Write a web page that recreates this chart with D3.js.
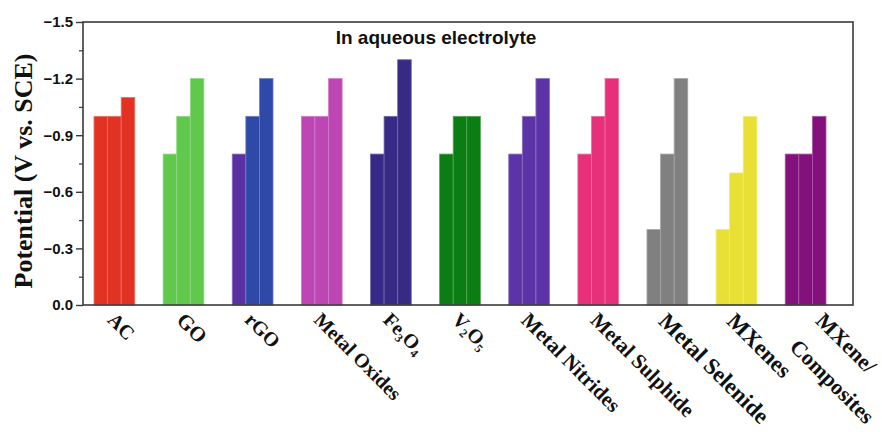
<!DOCTYPE html>
<html>
<head>
<meta charset="utf-8">
<script src="https://cdn.jsdelivr.net/npm/d3@7"></script>
<style>
  html, body { margin: 0; padding: 0; background: #fff; }
  svg { display: block; }
</style>
</head>
<body>
<svg id="chart" width="882" height="432"></svg>
<script>
// Electrode material classes along the x axis ("\n" breaks a label into two lines)
const categories = [
  "AC", "GO", "rGO", "Metal Oxides", "Fe3O4", "V2O5",
  "Metal Nitrides", "Metal Sulphide", "Metal Selenide", "MXenes", "MXene/\nComposites"
];

// Negative potential limits (V vs. SCE), three reported values per material
const firstLimit  = [-1.0, -0.8, -0.8, -1.0, -0.8, -0.8, -0.8, -0.8, -0.4, -0.4, -0.8];
const secondLimit = [-1.0, -1.0, -1.0, -1.0, -1.0, -1.0, -1.0, -1.0, -0.8, -0.7, -0.8];
const thirdLimit  = [-1.1, -1.2, -1.2, -1.2, -1.3, -1.0, -1.2, -1.2, -1.2, -1.0, -1.0];

// Y axis ticks
const tickValues = [0, -0.3, -0.6, -0.9, -1.2, -1.5];
const tickLabels = ["0.0", "\u22120.3", "\u22120.6", "\u22120.9", "\u22121.2", "\u22121.5"];
const minorTickValues = [-0.15, -0.45, -0.75, -1.05, -1.35];

// Fill colour of each bar, per material
const barColors = [
  ["#e13224", "#e13224", "#e13224"],
  ["#5fc84d", "#5fc84d", "#5fc84d"],
  ["#5a30a3", "#2e49a7", "#2e49a7"],
  ["#bd45b4", "#bd45b4", "#bd45b4"],
  ["#372a87", "#372a87", "#372a87"],
  ["#0b7e13", "#0b7e13", "#0b7e13"],
  ["#5c34a7", "#5c34a7", "#5c34a7"],
  ["#e8307a", "#e8307a", "#e8307a"],
  ["#808080", "#808080", "#808080"],
  ["#e9e036", "#e9e036", "#e9e036"],
  ["#84107e", "#84107e", "#84107e"]
];

// Category label type sizes (px) and horizontal nudges from the group centre
const labelFontSizes = [20, 21, 20, 20, 20, 20, 21, 21, 23, 23, 22];
const labelShift     = [-8, -8, -9, -9, -9, -9, -9, -9, -10, -11, 9];

const svg = d3.select("#chart");
const frame = { left: 83, right: 853, top: 22, bottom: 305 };

const rows = categories.map((name, i) => ({
  name,
  values: [firstLimit[i], secondLimit[i], thirdLimit[i]],
  colors: barColors[i]
}));

const y = d3.scaleLinear().domain([0, -1.5]).range([frame.bottom, frame.top]);
const x = d3.scaleBand().domain(categories).range([94, 826]).paddingInner(0.41).paddingOuter(0);
const xInner = d3.scaleBand().domain([0, 1, 2]).range([0, x.bandwidth()]);

// Bars
const groups = svg.append("g")
  .selectAll("g")
  .data(rows)
  .join("g")
  .attr("transform", d => `translate(${x(d.name)},0)`);

groups.selectAll("rect")
  .data(d => d.values.map((v, k) => ({ v, k, c: d.colors[k] })))
  .join("rect")
  .attr("x", d => xInner(d.k))
  .attr("width", xInner.bandwidth())
  .attr("y", d => y(d.v))
  .attr("height", d => y(0) - y(d.v))
  .attr("fill", d => d.c)
  .attr("stroke", d => d3.interpolateRgb(d.c, "#ffffff")(0.3))
  .attr("stroke-width", 0.8);

// Plot frame
svg.append("rect")
  .attr("x", frame.left)
  .attr("y", frame.top)
  .attr("width", frame.right - frame.left)
  .attr("height", frame.bottom - frame.top)
  .attr("fill", "none")
  .attr("stroke", "#3a3a3a")
  .attr("stroke-width", 1.6);

// Y axis with major and minor ticks
const yAxis = svg.append("g")
  .attr("transform", `translate(${frame.left},0)`)
  .call(d3.axisLeft(y)
    .tickValues(tickValues)
    .tickSize(7)
    .tickPadding(3)
    .tickFormat((d, i) => tickLabels[i]));
yAxis.select(".domain").remove();
yAxis.selectAll(".tick line").attr("stroke", "#3a3a3a").attr("stroke-width", 1.4);
yAxis.selectAll(".tick text")
  .attr("font-family", "Liberation Sans, Arial, sans-serif")
  .attr("font-weight", "bold")
  .attr("font-size", 15)
  .attr("fill", "#111");

const yMinor = svg.append("g")
  .attr("transform", `translate(${frame.left},0)`)
  .call(d3.axisLeft(y).tickValues(minorTickValues).tickSize(4).tickFormat(""));
yMinor.select(".domain").remove();
yMinor.selectAll(".tick line").attr("stroke", "#3a3a3a").attr("stroke-width", 1.2);

// Y axis title
svg.append("text")
  .attr("transform", "translate(32,171) rotate(-90)")
  .attr("text-anchor", "middle")
  .attr("font-family", "Liberation Serif, 'Times New Roman', serif")
  .attr("font-weight", "bold")
  .attr("font-size", 26)
  .attr("fill", "#111")
  .text("Potential (V vs. SCE)");

// Panel title
svg.append("text")
  .attr("x", 436)
  .attr("y", 44)
  .attr("text-anchor", "middle")
  .attr("font-family", "Liberation Sans, Arial, sans-serif")
  .attr("font-weight", "bold")
  .attr("font-size", 19)
  .attr("fill", "#111")
  .text("In aqueous electrolyte");

// Slanted category labels; digits in chemical formulas are drawn as subscripts
const labels = svg.append("g")
  .selectAll("text")
  .data(categories)
  .join("text")
  .attr("transform", (d, i) => {
    const fs = labelFontSizes[i];
    const px = x(d) + x.bandwidth() / 2 + labelShift[i];
    const py = frame.bottom + 16 + (fs - 20) * 0.5;
    return `translate(${px},${py}) rotate(45)`;
  })
  .attr("font-family", "Liberation Serif, 'Times New Roman', serif")
  .attr("font-weight", "bold")
  .attr("font-size", (d, i) => labelFontSizes[i])
  .attr("fill", "#111");

labels.each(function (d, i) {
  const t = d3.select(this);
  const fs = labelFontSizes[i];
  const lines = d.split("\n");
  lines.forEach((line, li) => {
    const parts = line.match(/\d+|\D+/g);
    parts.forEach((p, pi) => {
      const span = t.append("tspan").text(p);
      if (pi === 0 && li > 0) span.attr("x", 0).attr("y", fs * 1.68 * li);
      if (/\d/.test(p)) {
        span.attr("font-size", Math.round(fs * 0.62)).attr("dy", 4);
      } else if (pi > 0 && /\d/.test(parts[pi - 1])) {
        span.attr("dy", -4);
      }
    });
  });
});
</script>
</body>
</html>
